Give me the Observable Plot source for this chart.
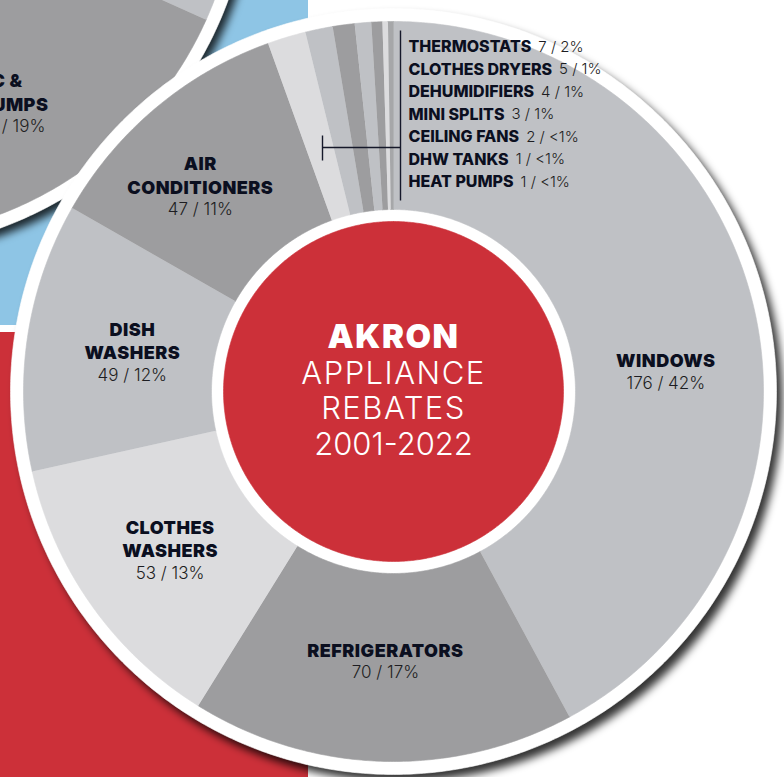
<!DOCTYPE html>
<html><head><meta charset="utf-8">
<script src="https://cdn.jsdelivr.net/npm/d3@7"></script>
<script src="https://cdn.jsdelivr.net/npm/@observablehq/plot@0.6"></script>
<style>
html,body{margin:0;padding:0;background:#fff;overflow:hidden}
#chart{width:784px;height:777px;overflow:hidden}
</style></head><body><div id="chart"></div>
<script>
// ---------- DATA ----------
const categories = ["WINDOWS","REFRIGERATORS","CLOTHES WASHERS","DISH WASHERS","AIR CONDITIONERS","THERMOSTATS","CLOTHES DRYERS","DEHUMIDIFIERS","MINI SPLITS","CEILING FANS","DHW TANKS","HEAT PUMPS"];
const labelNames = ["WINDOWS","REFRIGERATORS","CLOTHES\nWASHERS","DISH\nWASHERS","AIR\nCONDITIONERS","THERMOSTATS","CLOTHES DRYERS","DEHUMIDIFIERS","MINI SPLITS","CEILING FANS","DHW TANKS","HEAT PUMPS"];
const counts = [176,70,53,49,47,7,5,4,3,2,1,1];
const percents = ["42%","17%","13%","12%","11%","2%","1%","1%","1%","<1%","<1%","<1%"];
const centerTitle = "AKRON";
const centerSubtitle = ["APPLIANCE","REBATES","2001-2022"];
// neighbouring (cropped) chart of the infographic
const neighborNames = ["OTHER","HVAC &\nHEAT PUMPS","REST"];
const neighborShares = [31.7,19,49.3];
const neighborLabel = "1,160 / 19%";

// ---------- STYLE ----------
const sliceColors = ["#bfc1c5","#9d9d9f","#dcdcde","#bfc1c5","#9d9d9f","#dcdcde","#bfc1c5","#9d9d9f","#bfc1c5","#9d9d9f","#dcdcde","#a6a7a9"];
const neighborColors = ["#bfc1c5","#9d9d9f","#bfc1c5"];
const RED = "#cc3039", BLUE = "#8ec5e5", INK = "#0b0f1f", NUM = "#1d1d22";
const FONT = "Inter, 'Open Sans', sans-serif";

// ---------- GEOMETRY ----------
const W = 784, H = 777, k = 370, cxPx = 393, cyPx = 391;
const px = v => (v - cxPx) / k, py = v => (cyPx - v) / k;
const R_OUT = 1, R_RING = 383 / 370, R_IN = 182 / 370, R_CORE = 170 / 370, R_LABEL = 0.74;
const bigCount = 5;
// label placement tweaks: angular shift (deg) and radius factor
const labelNudge = {
  "WINDOWS": {deg: 10, r: 0.738},
  "REFRIGERATORS": {deg: 0, r: 0.728},
  "DISH WASHERS": {deg: 0, r: 0.714},
  "AIR CONDITIONERS": {deg: -3.2, r: 0.762}
};

function arcPoints(a0, a1, r0, r1, ox = 0, oy = 0) {
  const pts = [];
  const n = Math.max(2, Math.ceil((a1 - a0) / (Math.PI / 360)));
  for (let i = 0; i <= n; i++) { const a = a0 + (a1 - a0) * i / n; pts.push({x: ox + r1 * Math.sin(a), y: oy + r1 * Math.cos(a)}); }
  if (r0 > 0) for (let i = n; i >= 0; i--) { const a = a0 + (a1 - a0) * i / n; pts.push({x: ox + r0 * Math.sin(a), y: oy + r0 * Math.cos(a)}); }
  else pts.push({x: ox, y: oy});
  return pts;
}
const disk = (r, ox = 0, oy = 0) => arcPoints(0, 2 * Math.PI, 0, r, ox, oy).slice(0, -1);
const poly = (pts, fill, extra = {}) => Plot.line(pts, {x: "x", y: "y", fill, stroke: fill, strokeWidth: 0.6, ...extra});

const rows = categories.map((c, i) => ({c, name: labelNames[i], n: counts[i], pct: percents[i], color: sliceColors[i]}));
const arcs = d3.pie().sort(null).value(d => d.n)(rows);

// neighbour chart
const ncx = px(-132), ncy = py(-132);
const nRows = neighborNames.map((name, i) => ({name, v: neighborShares[i], color: neighborColors[i]}));
const nArcs = d3.pie().sort(null).value(d => d.v)(nRows);

// big labels
const lhPx = 23.5;
const bigLabelNames = [], bigLabelNums = [];
arcs.slice(0, bigCount).forEach(a => {
  const nud = labelNudge[a.data.c] || {deg: 0, r: R_LABEL};
  const mid = (a.startAngle + a.endAngle) / 2 + nud.deg * Math.PI / 180;
  const cx = nud.r * Math.sin(mid), cy = nud.r * Math.cos(mid);
  const nl = a.data.name.split("\n").length;
  bigLabelNames.push({x: cx, y: cy + (lhPx / 2) / k, t: a.data.name});
  bigLabelNums.push({x: cx, y: cy - (nl * lhPx / 2) / k, t: `${a.data.n} / ${a.data.pct}`});
});
// neighbour label
const nLabelNum = [];
{
  const a = nArcs[1];
  const mid = (a.startAngle + a.endAngle) / 2 + 5 * Math.PI / 180;
  const cx = ncx + 0.71 * Math.sin(mid), cy = ncy + 0.71 * Math.cos(mid);
  bigLabelNames.push({x: cx, y: cy + (lhPx / 2) / k, t: a.data.name});
  nLabelNum.push({x: cx, y: cy - (2 * lhPx / 2) / k, t: neighborLabel});
}

// small labels list
const smallFont = 16, numFont = 15, smallGap = 7;
const ctx = document.createElement("canvas").getContext("2d");
ctx.font = `800 ${smallFont}px ${FONT}`;
const listX = px(408), listTop = py(46.5), listStep = 22.5 / k;
const smallNames = [], smallNums = [];
arcs.slice(bigCount).forEach((a, i) => {
  const y = listTop - i * listStep;
  const w = ctx.measureText(a.data.name).width;
  smallNames.push({x: listX, y, t: a.data.name});
  smallNums.push({x: listX + (w + smallGap) / k, y, t: `${a.data.n} / ${a.data.pct}`});
});

// bracket
const bracket = [
  {x1: px(400), y1: py(30), x2: px(400), y2: py(200)},
  {x1: px(322), y1: py(147), x2: px(400), y2: py(147)},
  {x1: px(322), y1: py(135), x2: px(322), y2: py(160)}
];

// center text
const cLh = 35.8;
const centerRows = [{x: 0, y: (1.5 * cLh) / k, t: centerTitle}];
const subRows = centerSubtitle.map((t, i) => ({x: 0, y: -((i - 0.5) * cLh) / k, t}));

const bg = [
  {x1: px(0), x2: px(308), y1: py(0), y2: py(325), fill: BLUE},
  {x1: px(0), x2: px(308), y1: py(332), y2: py(H), fill: RED}
];

const plot = Plot.plot({
  width: W, height: H, margin: 0,
  x: {domain: [px(0), px(W)], axis: null},
  y: {domain: [py(H), py(0)], axis: null},
  style: {background: "white"},
  marks: [
    Plot.rect(bg, {x1: "x1", x2: "x2", y1: "y1", y2: "y2", fill: "fill"}),
    // neighbour chart
    poly(disk(R_RING, ncx, ncy), "#000", {dx: 5, dy: 6, fillOpacity: 0.8, strokeOpacity: 0, ariaDescription: "shadow"}),
    poly(disk(R_RING, ncx, ncy), "#ffffff"),
    nArcs.map(a => poly(arcPoints(a.startAngle, a.endAngle, R_IN, R_OUT, ncx, ncy), a.data.color)),
    poly(disk(R_CORE, ncx, ncy), RED),
    Plot.text(nLabelNum, {x: "x", y: "y", text: "t", dx: 16, fontFamily: FONT, fontWeight: 300, fontSize: 17, fill: NUM, lineAnchor: "middle"}),
    // main chart
    poly(disk(R_RING), "#000", {dx: 6, dy: 7, fillOpacity: 0.8, strokeOpacity: 0, ariaDescription: "shadow"}),
    poly(disk(R_RING), "#ffffff"),
    arcs.map(a => poly(arcPoints(a.startAngle, a.endAngle, R_IN, R_OUT), a.data.color)),
    poly(disk(R_CORE), RED),
    // labels
    Plot.text(bigLabelNames, {x: "x", y: "y", text: "t", fontFamily: FONT, fontWeight: 900, fontSize: 18, lineHeight: lhPx / 18, fill: INK, lineAnchor: "middle", ariaDescription: "wide05"}),
    Plot.text(bigLabelNums, {x: "x", y: "y", text: "t", fontFamily: FONT, fontWeight: 300, fontSize: 17, fill: NUM, lineAnchor: "middle"}),
    Plot.text(smallNames, {x: "x", y: "y", text: "t", fontFamily: FONT, fontWeight: 800, fontSize: smallFont, fill: INK, textAnchor: "start", lineAnchor: "middle"}),
    Plot.text(smallNums, {x: "x", y: "y", text: "t", fontFamily: FONT, fontWeight: 300, fontSize: numFont, fill: NUM, textAnchor: "start", lineAnchor: "middle"}),
    Plot.link(bracket, {x1: "x1", y1: "y1", x2: "x2", y2: "y2", stroke: "#15182a", strokeWidth: 1.4}),
    Plot.text(centerRows, {x: "x", y: "y", text: "t", fontFamily: FONT, fontWeight: 900, fontSize: 33, fill: "white", lineAnchor: "middle", ariaDescription: "wide15"}),
    Plot.text(subRows, {x: "x", y: "y", text: "t", fontFamily: FONT, fontWeight: 300, fontSize: 31, fill: "white", lineAnchor: "middle", ariaDescription: "sub"})
  ]
});

const svg = d3.select(plot);
const defs = svg.insert("defs", ":first-child");
defs.append("filter").attr("id", "soft").attr("x", "-20%").attr("y", "-20%").attr("width", "140%").attr("height", "140%")
  .append("feGaussianBlur").attr("stdDeviation", 4);
svg.selectAll("g[aria-description='shadow']").attr("filter", "url(#soft)");
svg.selectAll("g[aria-description='wide05'] text").style("letter-spacing", "0.5px");
svg.selectAll("g[aria-description='wide15'] text").style("letter-spacing", "1.5px");
svg.selectAll("g[aria-description='sub'] text").style("letter-spacing", function() { return /\d/.test(this.textContent) ? "0px" : "1.5px"; });
document.getElementById("chart").append(plot);
</script></body></html>
